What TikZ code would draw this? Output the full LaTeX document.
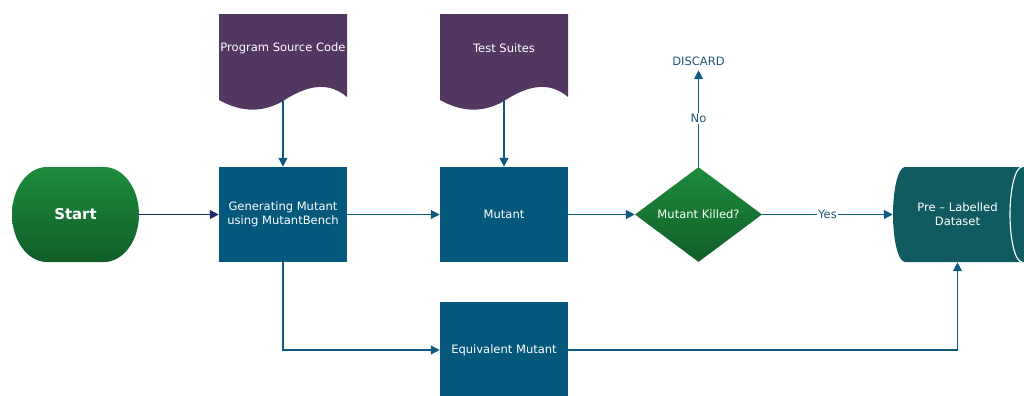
\documentclass[tikz,border=0pt]{standalone}
\usepackage{fontspec}
\setmainfont{DejaVu Sans}
\usetikzlibrary{arrows.meta,shapes.geometric}
\definecolor{boxblue}{RGB}{3,88,124}
\definecolor{docpurple}{RGB}{82,55,96}
\definecolor{greentop}{RGB}{30,140,62}
\definecolor{greenbot}{RGB}{16,94,40}
\definecolor{datateal}{RGB}{16,91,96}
\definecolor{linkblue}{RGB}{14,89,128}
\definecolor{startnavy}{RGB}{26,42,108}
\definecolor{labelblue}{RGB}{30,88,120}
\tikzset{
  stepbox/.style={fill=boxblue, text=white, minimum width=3.2cm, minimum height=2.375cm,
    inner sep=0pt, align=center, font=\fontsize{8.2}{10}\selectfont},
  doctext/.style={text=white, font=\fontsize{8.2}{10}\selectfont},
  link/.style={draw=linkblue, line width=0.9pt, -{Triangle[length=2.2mm,width=2.2mm]}},
  lbl/.style={text=labelblue, fill=white, inner sep=1pt, font=\fontsize{8.2}{10}\selectfont},
}
\begin{document}
\begin{tikzpicture}[x=0.025cm,y=-0.025cm]
\useasboundingbox (0,0) rectangle (1024,395);
\clip (0,0) rectangle (1024,395);
% start terminal
\shade[top color=greentop,bottom color=greenbot] (47,167) -- (104,167)
  arc[start angle=-90,end angle=90,x radius=35,y radius=47.5] -- (47,262)
  arc[start angle=90,end angle=270,x radius=35,y radius=47.5] -- cycle;
\node[text=white, minimum width=3.175cm, minimum height=2.375cm, inner sep=0pt,
  font=\fontsize{10.6}{12}\selectfont\bfseries] (start) at (75.5,214.5) {Start};
% documents
\fill[docpurple] (219,14) -- (347,14) -- (347,97) .. controls (329,82) and (309,84) .. (283,101)
  .. controls (259,115) and (237,110) .. (219,100) -- cycle;
\node[doctext] (src) at (283,48) {Program Source Code};
\coordinate (srcb) at (283,101);
\fill[docpurple] (440,14) -- (568,14) -- (568,97) .. controls (550,82) and (530,84) .. (504,101)
  .. controls (480,115) and (458,110) .. (440,100) -- cycle;
\node[doctext] (tests) at (504,48) {Test Suites};
\coordinate (testsb) at (504,101);
% process boxes
\node[stepbox] (gen) at (283,214.5) {Generating Mutant\\using MutantBench};
\node[stepbox] (mut) at (504,214.5) {Mutant};
\node[stepbox] (equiv) at (504,350) {Equivalent Mutant};
% decision
\node[diamond, top color=greentop, bottom color=greenbot, minimum width=3.175cm,
  minimum height=2.375cm, inner sep=0pt, aspect=1.34, text=white,
  font=\fontsize{8.2}{10}\selectfont] (kill) at (698.5,214.5) {Mutant Killed?};
\node[text=labelblue, font=\fontsize{8.2}{10}\selectfont] (discard) at (698.5,61) {DISCARD};
% stored data
\fill[datateal] (905,167) -- (1040,167) -- (1040,262) -- (905,262)
  arc[start angle=90,end angle=270,x radius=12,y radius=47.5] -- cycle;
\draw[white, line width=0.8pt] (1022,167) arc[start angle=270,end angle=90,x radius=12,y radius=47.5];
\node[text=white, minimum width=3.225cm, minimum height=2.375cm, inner sep=0pt, align=center,
  font=\fontsize{8.2}{10}\selectfont] (data) at (957.5,214.5) {Pre -- Labelled\\Dataset};
% connectors
\draw[link, draw=startnavy] (start) -- (gen);
\draw[link] (srcb) -- (gen);
\draw[link] (testsb) -- (mut);
\draw[link] (gen) -- (mut);
\draw[link] (mut) -- (kill);
\draw[link] (kill) -- node[lbl]{No} (discard);
\draw[link] (kill) -- node[lbl]{Yes} (data);
\draw[link] (gen.south) |- (equiv);
\draw[link] (equiv) -| (data.south);
\end{tikzpicture}
\end{document}
